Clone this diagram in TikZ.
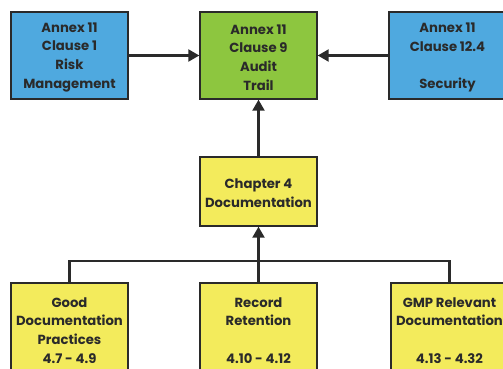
\documentclass[tikz,border=0pt]{standalone}
\usepackage{fontspec}
\setmainfont{Poppins}
\usetikzlibrary{arrows.meta}
\definecolor{boxblue}{HTML}{4FA9DF}
\definecolor{boxgreen}{HTML}{8DC63F}
\definecolor{boxyellow}{HTML}{F3EB5C}
\definecolor{ink}{HTML}{2A2A2A}
\tikzset{
  box/.style={draw=ink, line width=1.4pt, minimum width=117pt, inner sep=0pt},
  boxtext/.style={align=center, inner sep=0pt, yshift=-1.8pt,
    font=\fontsize{13.2}{18.7}\selectfont\bfseries, text=ink},
  conn/.style={draw=ink, line width=2.2pt},
  arr/.style={conn, -{Triangle[length=11pt,width=12pt]}},
}
\begin{document}
\begin{tikzpicture}[x=1pt,y=-1pt]
\useasboundingbox (0,0) rectangle (503,369);
\clip (0,0) rectangle (503,369);
\fill[white] (0,0) rectangle (503,369);

% top row
\node[box, fill=boxblue, minimum height=87pt,
  label={[boxtext]center:Annex 11\\Clause 1\\Risk\\Management}] (risk) at (69.5,55.5) {};
\node[box, fill=boxgreen, minimum height=87pt,
  label={[boxtext]center:Annex 11\\Clause 9\\Audit\\Trail}] (audit) at (258.5,55.5) {};
\node[box, fill=boxblue, minimum height=87pt,
  label={[boxtext]center:Annex 11\\Clause 12.4\\[18.7pt]Security}] (sec) at (447.5,55.5) {};

% chapter 4
\node[box, fill=boxyellow, minimum height=69pt,
  label={[boxtext]center:Chapter 4\\Documentation}] (chap) at (258.5,191.5) {};

% bottom row
\node[box, fill=boxyellow, minimum height=91pt,
  label={[boxtext]center:Good\\Documentation\\Practices\\4.7 - 4.9}] (gdp) at (69.5,328.5) {};
\node[box, fill=boxyellow, minimum height=91pt,
  label={[boxtext]center:Record\\Retention\\[18.7pt]4.10 - 4.12}] (rec) at (258.5,328.5) {};
\node[box, fill=boxyellow, minimum height=91pt,
  label={[boxtext]center:GMP Relevant\\Documentation\\[18.7pt]4.13 - 4.32}] (gmp) at (449.5,328.5) {};

% connectors
\coordinate (bar) at (258.5,261);
\draw[arr] (risk.east) -- (audit.west);
\draw[arr] (sec.west) -- (audit.east);
\draw[arr] (chap.north) -- (audit.south);
\draw[conn] (gdp.north) |- (bar) -| (gmp.north);
\draw[arr] (rec.north) -- (chap.south);
\end{tikzpicture}
\end{document}
